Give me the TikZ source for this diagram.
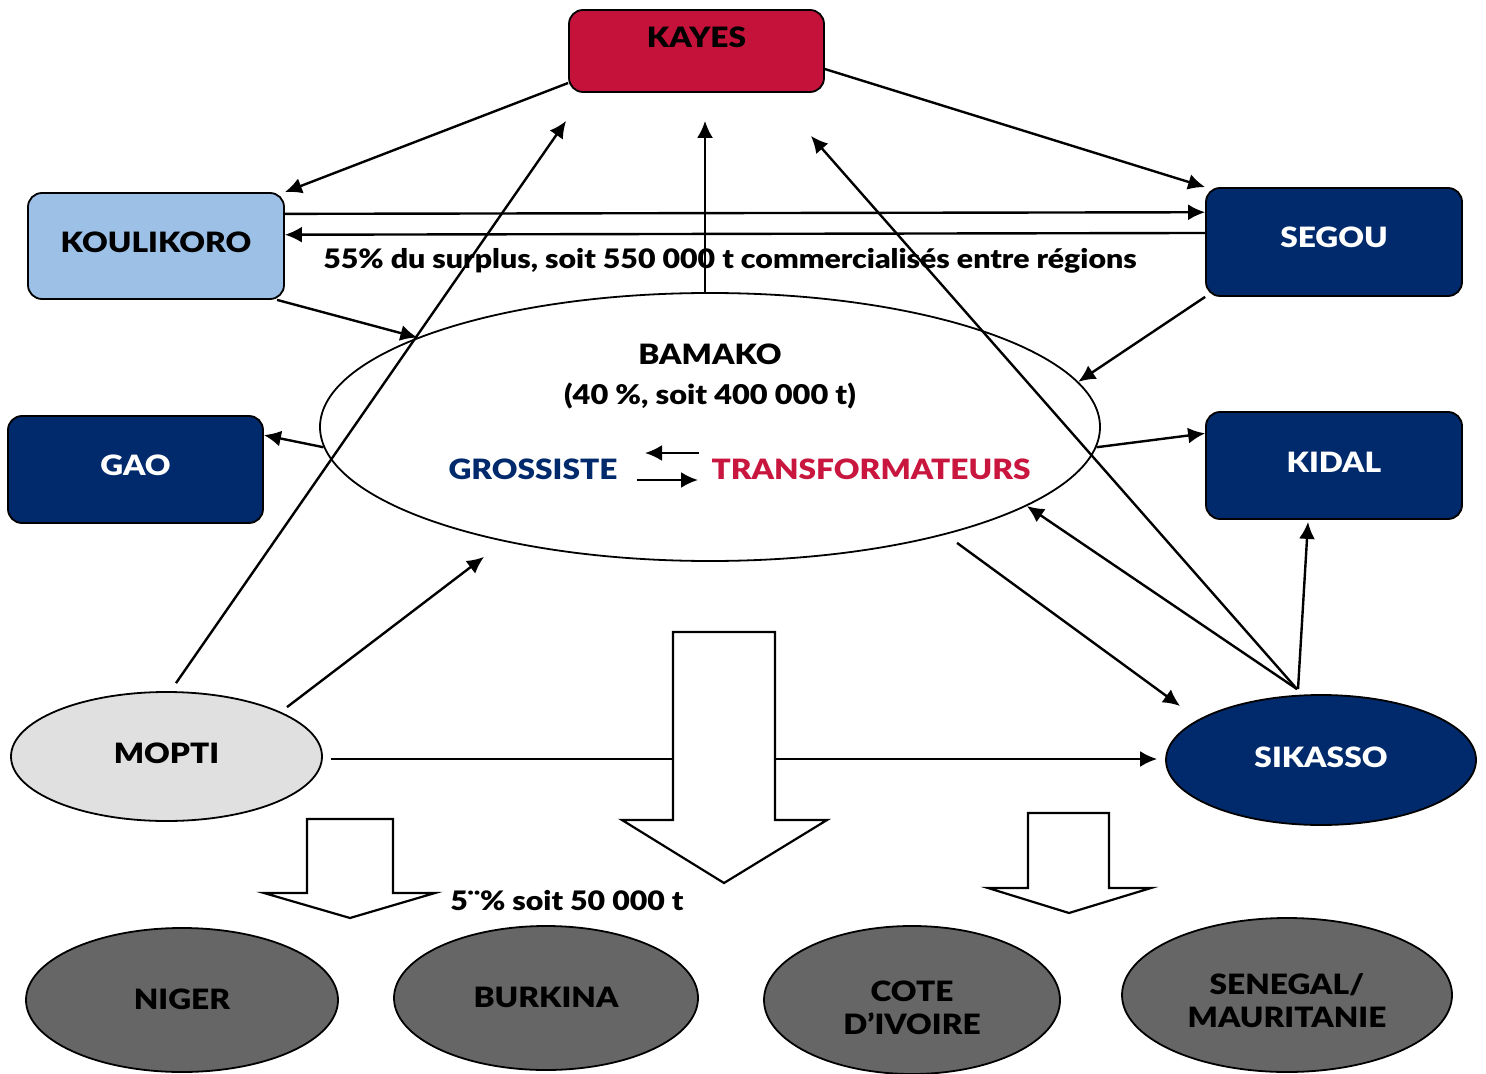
\documentclass[tikz,border=0pt]{standalone}
\usepackage{fontspec}
\setmainfont{Lato}[BoldFont={Lato Black}, FakeStretch=1.13]
\usetikzlibrary{shapes.geometric,arrows.meta,calc}
\definecolor{navy}{HTML}{002A6C}
\definecolor{kred}{HTML}{C4123A}
\definecolor{lblue}{HTML}{9DC1E6}
\definecolor{lgrey}{HTML}{E0E0E0}
\definecolor{dgrey}{HTML}{666666}
\definecolor{tred}{HTML}{C8163F}
\begin{document}
\begin{tikzpicture}[x=0.5pt,y=-0.5pt,
  box/.style={draw=black, line width=0.9pt, rounded corners=7pt, inner sep=0pt,
    font=\bfseries\fontsize{14}{16.5}\selectfont, text height=10pt, text depth=0pt},
  oval/.style={draw=black, line width=0.9pt, ellipse, inner sep=0pt,
    font=\bfseries\fontsize{14}{16.5}\selectfont, text height=10pt, text depth=0pt},
  lbl/.style={inner sep=0pt, font=\bfseries\fontsize{13.4}{15}\selectfont, text height=9.5pt, text depth=0pt},
  arr/.style={line width=1.2pt, -{Latex[length=8.5pt,width=8pt]}},
  blk/.style={draw=black, fill=white, line width=1.1pt, line join=miter}]
\useasboundingbox (0,0) rectangle (1486,1074);

% regions
\node[box, fill=kred, minimum width=127.5pt, minimum height=41pt, text depth=13pt] (kayes) at (696.5,51) {KAYES};
\node[box, fill=lblue, minimum width=128pt, minimum height=53pt, text depth=3pt] (koul) at (156,246) {KOULIKORO};
\node[box, fill=navy, text=white, minimum width=128pt, minimum height=54pt, text depth=4pt] (segou) at (1334,242) {SEGOU};
\node[box, fill=navy, text=white, minimum width=127.5pt, minimum height=53.5pt, text depth=4.5pt] (gao) at (135.5,469.5) {GAO};
\node[box, fill=navy, text=white, minimum width=128pt, minimum height=53.5pt, text depth=3.5pt] (kidal) at (1334,465.5) {KIDAL};

\node[oval, minimum width=390pt, minimum height=134pt] (bamako) at (710,427) {};
\node[lbl, font=\bfseries\fontsize{14}{16.5}\selectfont, text height=10pt] (bamt) at (710,355) {BAMAKO};
\node[lbl, font=\bfseries\fontsize{13.6}{16}\selectfont, text height=10pt] (bamq) at (710,395) {(40 \%, soit 400 000 t)};
\node[lbl, font=\bfseries\fontsize{14}{16.5}\selectfont, text height=10pt, text=navy] (gros) at (533,469) {GROSSISTE};
\node[lbl, font=\bfseries\fontsize{14}{16.5}\selectfont, text height=10pt, text=tred] (trans) at (871,469) {TRANSFORMATEURS};

\node[oval, fill=lgrey, minimum width=155.5pt, minimum height=64.5pt, text depth=3.5pt] (mopti) at (166.5,756.5) {MOPTI};
\node[oval, fill=navy, text=white, minimum width=155pt, minimum height=65pt, text depth=3pt] (sikasso) at (1321,760) {SIKASSO};

\node[oval, fill=dgrey, minimum width=156pt, minimum height=72pt, text depth=1pt] (niger) at (182,1000) {NIGER};
\node[oval, fill=dgrey, minimum width=152pt, minimum height=72pt, text depth=1pt] (burkina) at (546,998) {BURKINA};
\node[oval, fill=dgrey, minimum width=148pt, minimum height=74pt, align=center, text height=34pt] (cote) at (912,1000) {COTE\\D’IVOIRE};
\node[oval, fill=dgrey, minimum width=165pt, minimum height=77pt, align=center, text height=32.5pt] (senegal) at (1287,995) {SENEGAL/\\MAURITANIE};

% labels
\node[lbl] (surplus) at (730,259) {55\% du surplus, soit 550 000 t commercialisés entre régions};

% connectors
\draw[arr] (kayes.194) -- (koul.north east);
\draw[arr] (kayes.352.4) -- (segou.north west);
\draw[arr] (koul.14.5) -- (segou.167);
\draw[arr] (segou.176.4) -- (koul.5.4);
\draw[arr] (koul.-24.9) -- (bamako.163.6);
\draw[arr] (segou.south west) -- (bamako.7.7);
\draw[arr] (bamako.183.5) -- (gao.15.3);
\draw[arr] (bamako.-3.6) -- (kidal.166.3);
\draw[arr] ($(bamako.north)+(-5,0)$) -- ($(bamako.north |- kayes.south)+(-5,28)$);
\draw[arr] ($(mopti.north)+(9.5,-8)$) -- ($(kayes.south west)+(-2,28)$);
\draw[arr] ($(sikasso.north)+(-24,-5)$) -- ($(kayes.south east)+(-14,43)$);
\draw[arr] ($(sikasso.north)+(-24,-5)$) -- (bamako.-14);
\draw[arr] ($(bamako.south)+(247,-19)$) -- ($(sikasso.west)+(15,-54)$);
\draw[arr] ($(sikasso.north)+(-23,-5)$) -- ($(kidal.south)+(-26,2)$);
\draw[arr] ($(mopti.north)+(120.5,16)$) -- ($(bamako.south)+(-226,-5)$);
\draw[arr] ($(mopti.east)+(8,2.5)$) -- ($(sikasso.west)+(-8,-1)$);
\draw[arr] ($(bamako.center)+(-11,26)$) -- ($(bamako.center)+(-65,26)$);
\draw[arr] ($(bamako.center)+(-73,53)$) -- ($(bamako.center)+(-12,53)$);

% block arrows
\draw[blk] (673,632) -- (775,632) -- (775,820) -- (827,820) -- (724,883) -- (622,820) -- (673,820) -- cycle;
\draw[blk] (307,819) -- (393,819) -- (393,893) -- (435,893) -- (350,918) -- (264,893) -- (307,893) -- cycle;
\draw[blk] (1028,813) -- (1109,813) -- (1109,888) -- (1151,888) -- (1069,913) -- (988,888) -- (1028,888) -- cycle;

\node[lbl] (export) at (567,901) {5¨\% soit 50 000 t};
\end{tikzpicture}
\end{document}
